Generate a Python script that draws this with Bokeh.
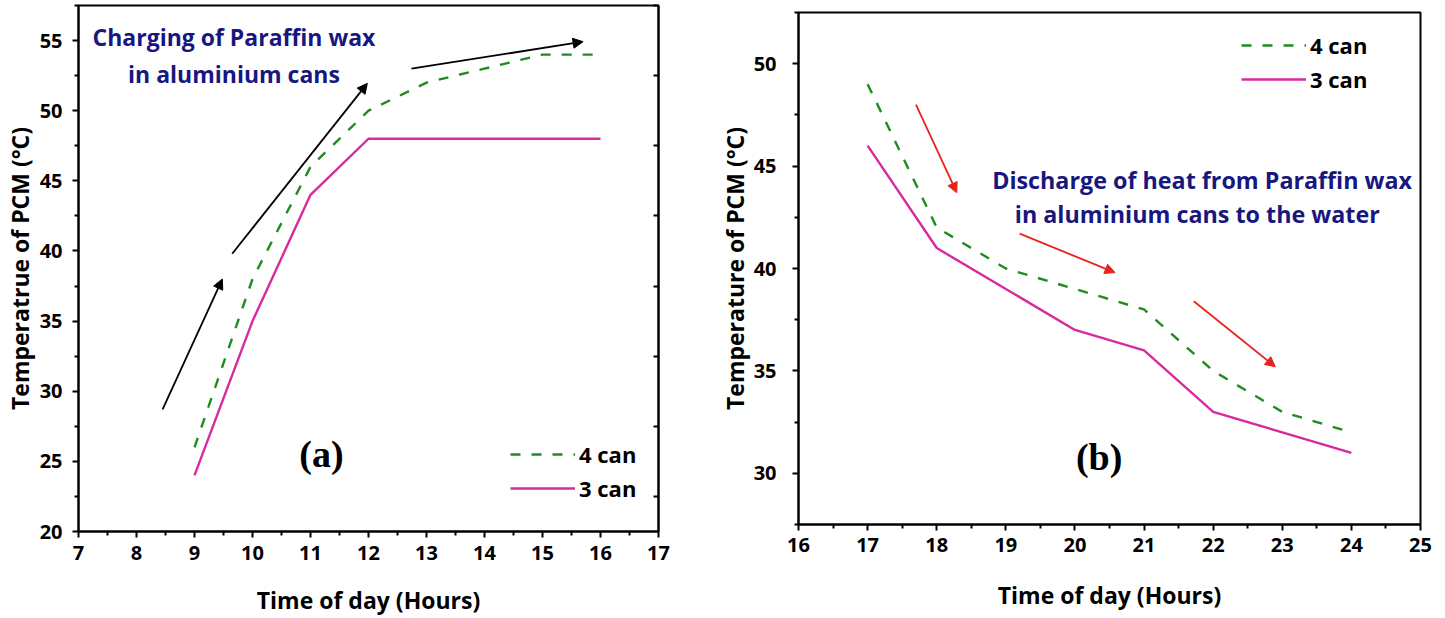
from bokeh.plotting import figure
from bokeh.models import (Arrow, NormalHead, Label, Legend, LegendItem,
                          LinearAxis, FixedTicker, Range1d)
from bokeh.embed import file_html
from bokeh.resources import INLINE

# ---- data: charging (a) ----
hours_charge = [9, 10, 11, 12, 13, 14, 15, 16]
charge_4can = [26, 38, 46, 50, 52, 53, 54, 54]
charge_3can = [24, 35, 44, 48, 48, 48, 48, 48]

# ---- data: discharging (b) ----
hours_discharge = [17, 18, 19, 20, 21, 22, 23, 24]
discharge_4can = [49, 42, 40, 39, 38, 35, 33, 32]
discharge_3can = [46, 41, 39, 37, 36, 33, 32, 31]

# trend arrows (x0, y0, x1, y1) in data units
charge_arrows = [(8.45, 28.7, 9.48, 38.0),
                 (9.65, 39.8, 11.98, 51.95),
                 (12.74, 53.0, 15.7, 54.92)]
discharge_arrows = [(17.70, 48.0, 18.29, 43.7),
                    (19.20, 41.7, 20.58, 39.8),
                    (21.72, 38.4, 22.90, 35.2)]

FONT = "Open Sans"
GREEN = "#1e8c1e"
PINK = "#d82a9c"
NAVY = "#17177f"
DASH = "10 11"


def style_axes(p, ytitle):
    for ax in (p.xaxis[0], p.yaxis[0]):
        ax.axis_line_width = 2
        ax.major_tick_line_width = 2
        ax.minor_tick_line_width = 2
        ax.major_tick_in = 0
        ax.major_tick_out = 6
        ax.minor_tick_in = 0
        ax.minor_tick_out = 4
        ax.major_label_text_font = FONT
        ax.major_label_text_font_style = "bold"
        ax.major_label_text_font_size = "20px"
        ax.major_label_text_color = "black"
        ax.axis_label_text_font = FONT
        ax.axis_label_text_font_style = "bold"
        ax.axis_label_text_font_size = "23px"
        ax.axis_label_text_color = "black"
    p.xaxis[0].axis_label = "Time of day (Hours)"
    p.yaxis[0].axis_label = ytitle
    p.xgrid.visible = False
    p.ygrid.visible = False
    p.outline_line_color = "black"
    p.outline_line_width = 2
    p.outline_line_alpha = 1


def make_legend(p, g4, g3, loc):
    leg = Legend(items=[LegendItem(label="4 can", renderers=[g4]),
                        LegendItem(label="3 can", renderers=[g3])],
                 location=loc, glyph_width=65, glyph_height=20,
                 label_height=20, spacing=4, padding=0, margin=0,
                 label_standoff=4, border_line_color=None,
                 background_fill_alpha=0,
                 label_text_font=FONT, label_text_font_style="bold",
                 label_text_font_size="22px", label_text_color="black")
    p.add_layout(leg, "center")


def add_arrows(p, arrows, color):
    for x0, y0, x1, y1 in arrows:
        p.add_layout(Arrow(x_start=x0, y_start=y0, x_end=x1, y_end=y1,
                           line_color=color, line_width=1.8,
                           end=NormalHead(size=10, fill_color=color,
                                          line_color=color, line_width=1)))


def add_text(p, x, y, txt, color=NAVY, size="23px", font=FONT):
    p.add_layout(Label(x=x, y=y, text=txt, text_align="center",
                       text_baseline="middle", text_color=color,
                       text_font=font, text_font_style="bold",
                       text_font_size=size))


# ---------------- panel (a) ----------------
pa = figure(width=725, height=618, output_backend="svg", toolbar_location=None,
            x_range=Range1d(7, 17), y_range=Range1d(20, 57.5),
            min_border_left=78, min_border_right=67,
            min_border_top=5, min_border_bottom=85)
style_axes(pa, "Temperatrue of PCM (\u00b0C)")
pa.xaxis[0].ticker = FixedTicker(ticks=list(range(7, 18)),
                                 minor_ticks=[i + 0.5 for i in range(7, 17)])
pa.yaxis[0].ticker = FixedTicker(ticks=list(range(20, 56, 5)),
                                 minor_ticks=[22.5 + 5 * i for i in range(8)])
pa.xaxis[0].major_label_standoff = 8
pa.xaxis[0].axis_label_standoff = 21
pa.yaxis[0].major_label_standoff = 10
pa.yaxis[0].axis_label_standoff = 1

right_ax = LinearAxis(ticker=FixedTicker(ticks=[], minor_ticks=[22.5 + 5 * i for i in range(8)]),
                      axis_line_width=2, minor_tick_in=5, minor_tick_out=0,
                      minor_tick_line_width=2, major_tick_in=0, major_tick_out=0,
                      major_label_text_font_size="0px")
pa.add_layout(right_ax, "right")

ga4 = pa.line(hours_charge, charge_4can, line_color=GREEN, line_width=2.4, line_dash=DASH)
ga3 = pa.line(hours_charge, charge_3can, line_color=PINK, line_width=2.4)
make_legend(pa, ga4, ga3, (432, 28))
add_arrows(pa, charge_arrows, "black")
add_text(pa, 9.68, 55.28, "Charging of Paraffin wax")
add_text(pa, 9.68, 52.65, "in aluminium cans")
add_text(pa, 11.19, 25.55, "(a)", color="black", size="38px", font="Liberation Serif")

# ---------------- panel (b) ----------------
pb = figure(width=730, height=618, output_backend="svg", toolbar_location=None,
            x_range=Range1d(16, 25), y_range=Range1d(27.5, 52.5),
            min_border_left=82, min_border_right=25,
            min_border_top=12, min_border_bottom=94)
style_axes(pb, "Temperature of PCM (\u00b0C)")
pb.xaxis[0].ticker = FixedTicker(ticks=list(range(16, 26)),
                                 minor_ticks=[i + 0.5 for i in range(16, 25)])
pb.yaxis[0].ticker = FixedTicker(ticks=list(range(30, 51, 5)),
                                 minor_ticks=[27.5 + 5 * i for i in range(6)])
pb.xaxis[0].major_label_standoff = 7
pb.xaxis[0].axis_label_standoff = 24
pb.yaxis[0].major_label_standoff = 16
pb.yaxis[0].axis_label_standoff = 0

gb4 = pb.line(hours_discharge, discharge_4can, line_color=GREEN, line_width=2.4, line_dash=DASH)
gb3 = pb.line(hours_discharge, discharge_3can, line_color=PINK, line_width=2.4)
make_legend(pb, gb4, gb3, (443, 430))
add_arrows(pb, discharge_arrows, "#e8231b")
add_text(pb, 21.84, 44.31, "Discharge of heat from Paraffin wax", size="23.3px")
add_text(pb, 21.77, 42.65, "in aluminium cans to the water", size="23.3px")
add_text(pb, 20.35, 30.78, "(b)", color="black", size="38px", font="Liberation Serif")

# place the two panels side by side, each with its own frame geometry
pa.styles = {"position": "absolute", "left": "0px", "top": "0px"}
pb.styles = {"position": "absolute", "left": "715px", "top": "0px"}

open("out.html", "w").write(file_html([pa, pb], INLINE))
